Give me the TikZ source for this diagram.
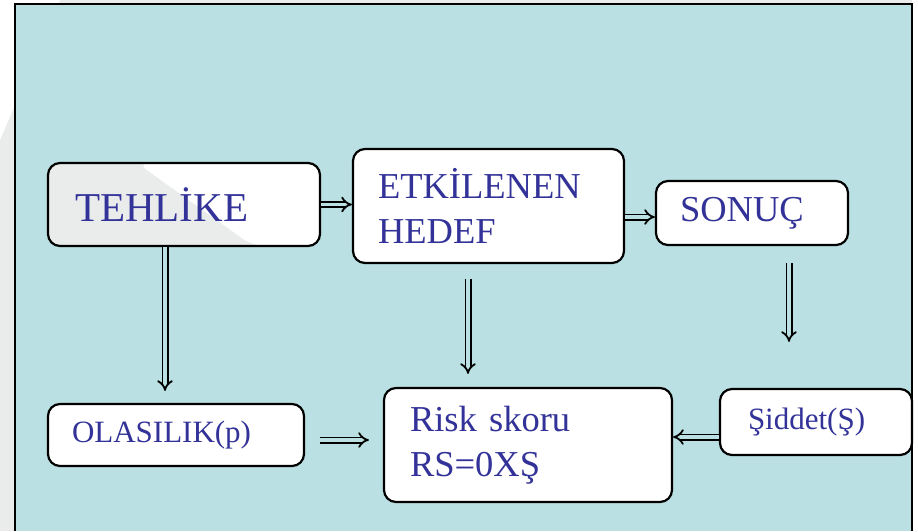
\documentclass[tikz,border=0pt]{standalone}
\usepackage{fontspec}
\setmainfont{Liberation Serif}
\usetikzlibrary{arrows.meta}
\definecolor{bgblue}{RGB}{186,224,227}
\definecolor{txtblue}{RGB}{50,50,152}
\definecolor{margingray}{RGB}{234,235,235}
\definecolor{boxgray}{RGB}{234,236,236}
\begin{document}
\begin{tikzpicture}[x=1pt,y=-1pt,
  box/.style={draw=black, line width=2.2pt, rounded corners=12pt, fill=white,
    text=txtblue, align=left, inner ysep=0pt, anchor=center},
  dbl/.style={draw=black, line width=1.8pt, double=bgblue, double distance=3.4pt, -{Implies}},
  huge/.style={font=\fontsize{41}{48}\selectfont},
  big/.style={font=\fontsize{36.5}{45}\selectfont},
  mid/.style={font=\fontsize{31}{38}\selectfont}]
\useasboundingbox (0,0) rectangle (918,531);
% slide background
\fill[margingray] (0,0) rectangle (918,531);
\fill[white] (0,0) -- (60,0) -- (0,140) -- cycle;
\fill[white] (912,0) rectangle (918,531);
\fill[bgblue] (15,4) rectangle (912,531);
\draw[line width=1.6pt] (15,531) -- (15,4) -- (912,4) -- (912,531);
% boxes
\node[box, huge, fill=boxgray, minimum width=272pt, minimum height=83pt,
  inner xsep=27pt, text width=218pt,
  path picture={\fill[white] ([xshift=-47pt]path picture bounding box.north)
     -- (path picture bounding box.north east) -- (path picture bounding box.south east)
     -- ([xshift=69pt]path picture bounding box.south) -- cycle;}]
  (teh) at (184,204.5) {TEHLİKE};
\node[box, big, minimum width=271pt, minimum height=114pt,
  inner xsep=25pt, text width=221pt] (etk) at (488.5,206) {ETKİLENEN\\HEDEF};
\node[box, big, minimum width=192pt, minimum height=64pt,
  inner xsep=24pt, text width=144pt] (son) at (752,213) {SONUÇ};
\node[box, mid, minimum width=256pt, minimum height=62pt,
  inner xsep=24pt, text width=208pt] (ola) at (176,435) {OLASILIK(p)};
\node[box, big, minimum width=288pt, minimum height=114pt,
  inner xsep=26pt, text width=236pt] (rsk) at (528,445) {Risk skoru\\RS=0XŞ};
\node[box, mid, minimum width=192pt, minimum height=66pt,
  inner xsep=28pt, text width=136pt] (sid) at (816,422) {Şiddet(Ş)};
% connectors
\draw[dbl] (teh.east) -- (etk.west |- teh.east);
\draw[dbl] ([yshift=-4pt]etk.east |- son.west) -- ([yshift=-4pt]son.west);
\draw[dbl, shorten >=12pt] (teh.south -| 165,0) -- (ola.north -| 165,0);
\draw[dbl, shorten <=15pt, shorten >=13pt] (etk.south -| 468,0) -- (rsk.north -| 468,0);
\draw[dbl, shorten <=17pt, shorten >=46pt] (son.south -| 789,0) -- (sid.north -| 789,0);
\draw[dbl, shorten <=15pt, shorten >=14pt] (ola.east |- 0,440) -- (rsk.west |- 0,440);
\draw[dbl] (sid.west |- 0,437) -- (rsk.east |- 0,437);
\end{tikzpicture}
\end{document}
